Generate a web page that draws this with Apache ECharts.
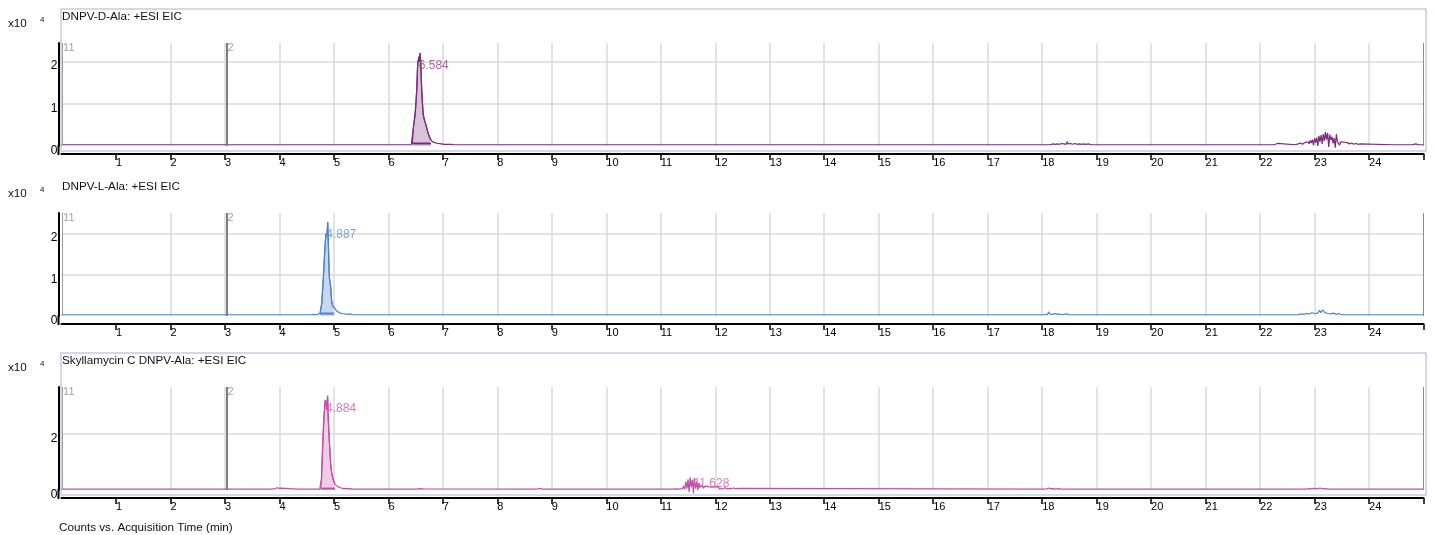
<!DOCTYPE html>
<html>
<head>
<meta charset="utf-8">
<script src="https://cdn.jsdelivr.net/npm/echarts@6/dist/echarts.min.js"></script>
<style>
  html, body { margin: 0; padding: 0; background: #fff; }
  #chart { width: 1434px; height: 535px; }
</style>
</head>
<body>
<div id="chart"></div>
<script>
// Extracted ion chromatograms, points are [retention time (min), counts x10^4]

const timeTicks = [1, 2, 3, 4, 5, 6, 7, 8, 9, 10, 11, 12, 13, 14, 15, 16, 17, 18, 19, 20, 21, 22, 23, 24];
const timeTickMarks = [1, 2, 3, 4, 5, 6, 7, 8, 9, 10, 11, 12, 13, 14, 15, 16, 17, 18, 19, 20, 21, 22, 23, 24, 25];

const panelTitles = ['DNPV-D-Ala: +ESI EIC', 'DNPV-L-Ala: +ESI EIC', 'Skyllamycin C DNPV-Ala: +ESI EIC'];

// Event markers shown on every panel: [time, text]
const eventMarks = [[0.02, '11'], [3.04, '2']];

// ---- DNPV-D-Ala ----
const dAlaBefore = [
  [0.0, 0.03], [5.02, 0.03], [5.04, 0.05], [5.06, 0.03],
  [5.72, 0.03], [5.74, 0.05], [5.76, 0.03], [5.86, 0.03], [5.88, 0.06], [5.9, 0.03],
  [6.16, 0.03], [6.18, 0.05], [6.2, 0.03], [6.42, 0.03]
];
const dAlaPeak = [
  [6.439, 0.06], [6.46, 0.45], [6.489, 0.73], [6.505, 1.0], [6.52, 1.32], [6.538, 1.95],
  [6.562, 2.12], [6.574, 2.0], [6.584, 2.2], [6.593, 2.0], [6.612, 1.32], [6.625, 1.0],
  [6.641, 0.73], [6.665, 0.6], [6.69, 0.5], [6.722, 0.34], [6.745, 0.25], [6.764, 0.18], [6.78, 0.14]
];
const dAlaAfter = [
  [6.8, 0.11], [6.82, 0.1], [6.85, 0.08], [6.88, 0.09], [6.91, 0.06], [6.94, 0.07], [6.97, 0.05],
  [7.0, 0.06], [7.03, 0.04], [7.06, 0.06], [7.09, 0.04], [7.12, 0.05], [7.15, 0.04], [7.18, 0.05], [7.21, 0.03],
  [11.55, 0.03], [11.57, 0.05], [11.59, 0.03],
  [16.35, 0.03], [16.37, 0.05], [16.39, 0.03],
  [18.15, 0.03], [18.2, 0.05], [18.24, 0.04], [18.28, 0.05], [18.32, 0.04], [18.36, 0.06], [18.4, 0.05],
  [18.44, 0.04], [18.46, 0.1], [18.48, 0.05], [18.52, 0.06], [18.56, 0.04], [18.6, 0.06], [18.64, 0.04],
  [18.68, 0.05], [18.72, 0.04], [18.76, 0.05], [18.8, 0.04], [18.85, 0.05], [18.9, 0.03],
  [19.18, 0.03], [19.2, 0.05], [19.22, 0.03],
  [21.06, 0.03], [21.08, 0.05], [21.1, 0.03],
  [21.64, 0.03], [21.66, 0.05], [21.68, 0.03],
  [22.24, 0.03], [22.26, 0.06], [22.28, 0.04], [22.32, 0.06], [22.34, 0.03],
  [22.64, 0.03], [22.66, 0.06], [22.7, 0.05], [22.74, 0.07], [22.78, 0.04], [22.82, 0.08], [22.85, 0.06],
  [22.88, 0.1], [22.9, 0.05], [22.92, 0.13], [22.94, 0.07], [22.96, 0.15], [22.98, 0.02], [23.0, 0.18],
  [23.02, 0.08], [23.04, 0.2], [23.06, 0.0], [23.08, 0.24], [23.1, 0.1], [23.12, 0.26], [23.14, 0.05],
  [23.16, 0.28], [23.18, 0.12], [23.2, 0.33], [23.22, 0.15], [23.24, 0.31], [23.26, -0.02], [23.28, 0.27],
  [23.3, 0.14], [23.32, 0.22], [23.34, 0.06], [23.36, 0.19], [23.38, -0.04], [23.4, 0.28], [23.42, 0.1],
  [23.44, 0.13], [23.46, 0.02], [23.48, 0.1], [23.5, 0.06], [23.53, 0.09], [23.56, 0.05], [23.6, 0.08],
  [23.64, 0.05], [23.68, 0.07], [23.72, 0.04], [23.76, 0.06], [23.8, 0.04], [23.84, 0.05], [23.87, 0.03],
  [24.42, 0.03], [24.44, 0.05], [24.46, 0.03], [24.6, 0.03], [24.62, 0.05], [24.64, 0.03],
  [24.75, 0.03], [24.77, 0.06], [24.79, 0.03], [24.86, 0.05], [24.9, 0.03], [25.0, 0.03]
];

// ---- DNPV-L-Ala ----
const lAlaBefore = [
  [0.0, 0.03], [4.58, 0.03], [4.6, 0.05], [4.62, 0.04], [4.64, 0.06], [4.66, 0.03], [4.7, 0.04], [4.72, 0.03]
];
const lAlaPeak = [
  [4.745, 0.06], [4.776, 0.3], [4.805, 0.88], [4.837, 1.7], [4.855, 2.0], [4.872, 1.95], [4.887, 2.28],
  [4.9, 1.65], [4.916, 0.96], [4.93, 0.8], [4.941, 0.71], [4.96, 0.34], [4.98, 0.24], [5.0, 0.2]
];
const lAlaAfter = [
  [5.021, 0.18], [5.05, 0.12], [5.08, 0.09], [5.113, 0.07], [5.15, 0.06], [5.2, 0.05], [5.23, 0.06],
  [5.26, 0.04], [5.3, 0.05], [5.35, 0.03],
  [5.84, 0.03], [5.86, 0.06], [5.88, 0.03], [8.28, 0.03], [8.3, 0.06], [8.32, 0.03],
  [11.8, 0.03], [11.82, 0.05], [11.84, 0.03],
  [18.05, 0.03], [18.08, 0.06], [18.1, 0.04], [18.12, 0.1], [18.14, 0.05], [18.17, 0.07], [18.2, 0.04],
  [18.24, 0.06], [18.28, 0.04], [18.32, 0.05], [18.36, 0.03], [18.45, 0.05], [18.5, 0.03],
  [19.05, 0.03], [19.07, 0.05], [19.09, 0.03],
  [22.7, 0.03], [22.75, 0.05], [22.8, 0.04], [22.85, 0.06], [22.9, 0.05], [22.95, 0.08], [23.0, 0.06],
  [23.03, 0.1], [23.06, 0.07], [23.09, 0.14], [23.12, 0.08], [23.15, 0.15], [23.18, 0.09], [23.21, 0.12],
  [23.24, 0.06], [23.27, 0.1], [23.3, 0.05], [23.35, 0.07], [23.4, 0.04], [23.45, 0.06], [23.5, 0.03],
  [24.4, 0.03], [24.42, 0.05], [24.44, 0.03], [24.85, 0.03], [24.87, 0.05], [24.89, 0.03], [25.0, 0.03]
];

// ---- Skyllamycin C DNPV-Ala ----
const skyBefore = [
  [0.0, 0.03], [3.86, 0.03], [3.88, 0.07], [3.92, 0.05], [3.96, 0.08], [4.0, 0.06], [4.04, 0.07], [4.06, 0.03],
  [4.32, 0.03], [4.34, 0.05], [4.36, 0.03], [4.74, 0.03]
];
const skyPeak = [
  [4.758, 0.05], [4.772, 0.4], [4.795, 1.63], [4.818, 2.6], [4.842, 3.2], [4.86, 3.1], [4.872, 2.85],
  [4.884, 3.35], [4.897, 2.5], [4.916, 1.76], [4.941, 0.92], [4.96, 0.6], [4.978, 0.44], [5.0, 0.3], [5.02, 0.2]
];
const skyAfter = [
  [5.05, 0.14], [5.081, 0.11], [5.12, 0.08], [5.173, 0.05], [5.22, 0.06], [5.26, 0.04], [5.3, 0.05], [5.34, 0.03],
  [5.55, 0.03], [5.57, 0.06], [5.6, 0.03],
  [6.52, 0.03], [6.55, 0.07], [6.58, 0.05], [6.61, 0.08], [6.64, 0.04], [6.66, 0.03],
  [8.68, 0.03], [8.7, 0.05], [8.74, 0.04], [8.78, 0.06], [8.82, 0.03],
  [10.12, 0.03], [10.15, 0.06], [10.18, 0.03], [10.34, 0.03], [10.36, 0.05], [10.38, 0.03],
  [11.22, 0.03], [11.25, 0.06], [11.28, 0.04], [11.31, 0.08], [11.34, 0.03], [11.37, 0.1], [11.4, 0.05],
  [11.42, 0.14], [11.44, 0.02], [11.46, 0.3], [11.48, 0.06], [11.5, 0.38], [11.52, -0.08], [11.54, 0.45],
  [11.56, 0.1], [11.58, 0.36], [11.6, -0.12], [11.615, 0.42], [11.628, 0.45], [11.64, 0.05], [11.66, 0.3],
  [11.68, 0.0], [11.7, 0.25], [11.72, 0.08], [11.75, 0.18], [11.78, 0.06], [11.81, 0.14], [11.84, 0.07],
  [11.87, 0.12], [11.9, 0.06], [11.93, 0.1], [11.96, 0.05], [11.99, 0.11], [12.02, 0.04], [12.05, 0.12],
  [12.08, 0.03], [12.11, 0.1], [12.14, 0.05], [12.18, 0.08], [12.22, 0.04], [12.26, 0.06], [12.3, 0.05],
  [12.34, 0.07], [12.38, 0.04], [12.42, 0.06], [12.45, 0.03],
  [18.02, 0.03], [18.05, 0.06], [18.08, 0.04], [18.12, 0.07], [18.16, 0.04], [18.2, 0.05], [18.25, 0.03],
  [18.3, 0.05], [18.35, 0.03],
  [22.85, 0.03], [22.9, 0.05], [22.95, 0.04], [23.0, 0.06], [23.05, 0.04], [23.1, 0.07], [23.15, 0.04],
  [23.2, 0.05], [23.25, 0.03], [24.9, 0.03], [25.0, 0.03]
];

// Retention times annotated on each panel
const dAlaLabelTimes = [6.584];
const lAlaLabelTimes = [4.887];
const skyLabelTimes = [4.884, 11.628];

// ---- layout and styling ----
const FONT = '"Liberation Sans", Arial, sans-serif';
const PLOT_LEFT = 61.5, PLOT_W = 1362, PLOT_H = 103;
const plotTops = [43, 213, 387];
const yMaxes = [2.44, 2.5, 3.66];
const ySteps = [1, 1, 2];
const framed = [true, false, true];
const lineColors = ['#7b2a7e', '#4a84c8', '#c24ea5'];
const fillColors = ['#d8c3da', '#c8d7ef', '#efcde6'];
const labelColors = ['#8d4490', '#5d92d2', '#cb5aac'];
// vertical offset of each annotation below its point (px)
const labelDrops = [[13], [13], [13, 7]];

const traces = [
  [...dAlaBefore, ...dAlaPeak, ...dAlaAfter],
  [...lAlaBefore, ...lAlaPeak, ...lAlaAfter],
  [...skyBefore, ...skyPeak, ...skyAfter]
];
const peaks = [dAlaPeak, lAlaPeak, skyPeak];
const labelTimes = [dAlaLabelTimes, lAlaLabelTimes, skyLabelTimes];

function pointAt(trace, t) {
  return trace.find(p => Math.abs(p[0] - t) < 1e-9);
}

const grid = [], xAxis = [], yAxis = [], series = [], graphic = [];

plotTops.forEach((top, i) => {
  const off = top - plotTops[0];
  grid.push({ left: PLOT_LEFT, top: top, width: PLOT_W, height: PLOT_H });

  xAxis.push({
    gridIndex: i, type: 'value', min: 0, max: 25, interval: 1, offset: 8,
    axisLine: { onZero: false, lineStyle: { color: '#000', width: 2 } },
    axisTick: { length: 6, lineStyle: { color: '#000', width: 1.5 }, customValues: timeTickMarks },
    axisLabel: { customValues: timeTicks, align: 'left', margin: 3, fontSize: 11, color: '#000', fontFamily: FONT },
    splitLine: { show: true, showMinLine: false, showMaxLine: false, lineStyle: { color: '#dadada', width: 1.5 } }
  });

  yAxis.push({
    gridIndex: i, type: 'value', min: 0, max: yMaxes[i], interval: ySteps[i], offset: 3,
    axisLine: { show: true, onZero: false, lineStyle: { color: '#000', width: 2 } },
    axisTick: { show: false },
    axisLabel: {
      margin: 1, fontSize: 12, color: '#000', fontFamily: FONT, verticalAlign: 'top', lineHeight: 9,
      formatter: v => (Math.abs(v / ySteps[i] - Math.round(v / ySteps[i])) < 1e-6 ? String(v) : '')
    },
    splitLine: { show: true, showMinLine: false, showMaxLine: false, lineStyle: { color: '#dadada', width: 1.5 } }
  });

  const peak = peaks[i];
  // integrated peak area
  series.push({
    type: 'line', xAxisIndex: i, yAxisIndex: i, data: peak, showSymbol: false, silent: true, z: 2,
    lineStyle: { color: lineColors[i], width: 1.2 },
    areaStyle: { color: fillColors[i], opacity: 1 }
  });
  // integration baseline
  series.push({
    type: 'line', xAxisIndex: i, yAxisIndex: i, showSymbol: false, silent: true, z: 3,
    data: [[peak[0][0], peak[0][1]], [peak[peak.length - 1][0], peak[0][1]]],
    lineStyle: { color: lineColors[i], width: 2 }
  });
  // full trace with event marker lines
  series.push({
    type: 'line', xAxisIndex: i, yAxisIndex: i, data: traces[i], showSymbol: false, silent: true, z: 4, clip: false,
    lineStyle: { color: lineColors[i], width: 1.2 },
    markLine: {
      silent: true, symbol: ['none', 'none'], label: { show: false }, animation: false,
      data: [
        { xAxis: eventMarks[0][0], lineStyle: { color: '#9a9a9a', width: 1, type: 'solid' } },
        { xAxis: eventMarks[1][0], lineStyle: { color: '#7d7d7d', width: 2, type: 'solid' } },
        { xAxis: 25, lineStyle: { color: '#8c8c8c', width: 1, type: 'solid' } }
      ]
    }
  });
  // retention-time annotations
  labelTimes[i].forEach((t, k) => {
    series.push({
      type: 'scatter', xAxisIndex: i, yAxisIndex: i, symbolSize: 1, silent: true, z: 6,
      itemStyle: { color: 'transparent' },
      data: [pointAt(traces[i], t)],
      label: {
        show: true, position: [-1, labelDrops[i][k]], align: 'left', verticalAlign: 'middle',
        fontSize: 12, fontFamily: FONT, color: labelColors[i],
        formatter: p => p.value[0].toFixed(3)
      }
    });
  });
  // event marker captions
  series.push({
    type: 'scatter', xAxisIndex: i, yAxisIndex: i, symbolSize: 1, silent: true, z: 6,
    itemStyle: { color: 'transparent' },
    data: eventMarks.map(m => ({ value: [m[0], yMaxes[i]], name: m[1] })),
    label: {
      show: true, position: [1, 0], align: 'left', verticalAlign: 'top',
      fontSize: 11, fontFamily: FONT, color: '#8a8a8a', formatter: p => p.name
    }
  });

  if (framed[i]) {
    graphic.push({
      type: 'rect', silent: true, z: 0,
      shape: { x: 61, y: 9 + off, width: 1365, height: 142 },
      style: { fill: 'none', stroke: '#c7cce8', lineWidth: 1.5 }
    });
  }
  // y axis line runs down to the time axis
  graphic.push({
    type: 'line', silent: true,
    shape: { x1: PLOT_LEFT - 3, y1: top + PLOT_H - 1, x2: PLOT_LEFT - 3, y2: top + PLOT_H + 9 },
    style: { stroke: '#000', lineWidth: 2 }
  });
  graphic.push({
    type: 'text', silent: true,
    style: { text: panelTitles[i], x: 62, y: 17 + off, fill: '#111', fontSize: 11.7, fontFamily: FONT, verticalAlign: 'middle', align: 'left' }
  });
  graphic.push({
    type: 'text', silent: true,
    style: { text: 'x10', x: 8, y: 24 + off, fill: '#111', fontSize: 11.7, fontFamily: FONT, verticalAlign: 'middle', align: 'left' }
  });
  graphic.push({
    type: 'text', silent: true,
    style: { text: '4', x: 40, y: 19.5 + off, fill: '#111', fontSize: 8, fontFamily: FONT, verticalAlign: 'middle', align: 'left' }
  });
});

graphic.push({
  type: 'text', silent: true,
  style: { text: 'Counts vs. Acquisition Time (min)', x: 59, y: 528, fill: '#111', fontSize: 11.7, fontFamily: FONT, verticalAlign: 'middle', align: 'left' }
});

const chart = echarts.init(document.getElementById('chart'), null, { renderer: 'canvas' });
chart.setOption({
  animation: false,
  backgroundColor: '#fff',
  grid, xAxis, yAxis, series, graphic
});
</script>
</body>
</html>
